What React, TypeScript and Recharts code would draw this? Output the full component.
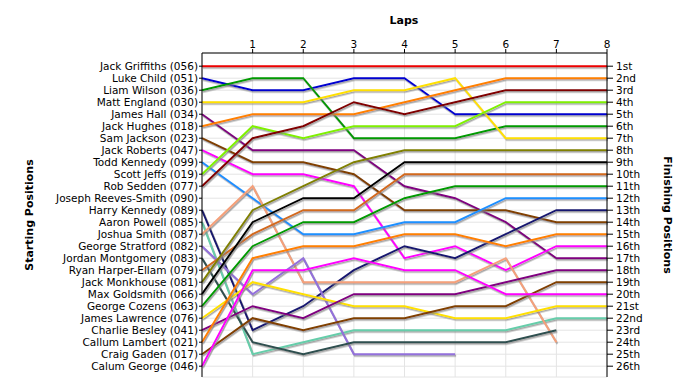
import React from 'react';
import { LineChart, Line, XAxis, YAxis, CartesianGrid } from 'recharts';

const laps = [0, 1, 2, 3, 4, 5, 6, 7, 8];
const lapTicks = [1, 2, 3, 4, 5, 6, 7, 8];
const rows = [1, 2, 3, 4, 5, 6, 7, 8, 9, 10, 11, 12, 13, 14, 15, 16, 17, 18, 19, 20, 21, 22, 23, 24, 25, 26];

const startingPositions = [
  'Jack Griffiths (056)', 'Luke Child (051)', 'Liam Wilson (036)', 'Matt England (030)',
  'James Hall (034)', 'Jack Hughes (018)', 'Sam Jackson (023)', 'Jack Roberts (047)',
  'Todd Kennedy (099)', 'Scott Jeffs (019)', 'Rob Sedden (077)', 'Joseph Reeves-Smith (090)',
  'Harry Kennedy (089)', 'Aaron Powell (085)', 'Joshua Smith (087)', 'George Stratford (082)',
  'Jordan Montgomery (083)', 'Ryan Harper-Ellam (079)', 'Jack Monkhouse (081)', 'Max Goldsmith (066)',
  'George Cozens (063)', 'James Lawrence (076)', 'Charlie Besley (041)', 'Callum Lambert (021)',
  'Craig Gaden (017)', 'Calum George (046)',
];

const finishingPositions = [
  '1st', '2nd', '3rd', '4th', '5th', '6th', '7th', '8th', '9th', '10th', '11th', '12th', '13th',
  '14th', '15th', '16th', '17th', '18th', '19th', '20th', '21st', '22nd', '23rd', '24th', '25th', '26th',
];

// position on each lap, 0..8 (null = retired)
const jackGriffiths = [1, 1, 1, 1, 1, 1, 1, 1, 1];
const lukeChild = [2, 3, 3, 2, 2, 5, 5, 5, 5];
const liamWilson = [3, 2, 2, 7, 7, 7, 6, 6, 6];
const mattEngland = [4, 4, 4, 3, 3, 2, 7, 7, 7];
const jamesHall = [5, 8, 8, 8, 11, 12, 14, 17, 17];
const jackHughes = [6, 5, 5, 5, 4, 3, 2, 2, 2];
const samJackson = [7, 9, 9, 10, 13, 13, 13, 14, 14];
const jackRoberts = [8, 10, 10, 11, 17, 16, 18, 16, 16];
const toddKennedy = [9, 12, 15, 15, 14, 14, 12, 12, 12];
const scottJeffs = [10, 6, 7, 6, 6, 6, 4, 4, 4];
const robSedden = [11, 7, 6, 4, 5, 4, 3, 3, 3];
const harryKennedy = [13, 23, 21, 18, 16, 17, 15, 13, 13];
const aaronPowell = [14, 25, 24, 23, 23, 23, 23, 22, 22];
const joshuaSmith = [15, 11, 19, 19, 19, 19, 17, 24, null];
const georgeStratford = [16, 20, 17, 25, 25, 25, null, null, null];
const jordanMontgomery = [17, 24, 25, 24, 24, 24, 24, 23, null];
const ryanHarperEllam = [18, 15, 13, 13, 10, 10, 10, 10, 10];
const jackMonkhouse = [19, 13, 11, 9, 8, 8, 8, 8, 8];
const maxGoldsmith = [20, 14, 12, 12, 9, 9, 9, 9, 9];
const georgeCozens = [21, 16, 14, 14, 12, 11, 11, 11, 11];
const jamesLawrence = [22, 19, 20, 21, 21, 22, 22, 21, 21];
const charlieBesley = [23, 21, 22, 20, 20, 20, 19, 18, 18];
const callumLambert = [24, 17, 16, 16, 15, 15, 16, 15, 15];
const craigGaden = [25, 22, 23, 22, 22, 21, 21, 19, 19];
const calumGeorge = [26, 18, 18, 17, 18, 18, 20, 20, 20];

const drivers = [
  { name: 'Jack Griffiths', color: '#ee0000', pos: jackGriffiths },
  { name: 'Luke Child', color: '#0000d0', pos: lukeChild },
  { name: 'Liam Wilson', color: '#009a00', pos: liamWilson },
  { name: 'Matt England', color: '#ffe000', pos: mattEngland },
  { name: 'James Hall', color: '#800080', pos: jamesHall },
  { name: 'Jack Hughes', color: '#ff8000', pos: jackHughes },
  { name: 'Sam Jackson', color: '#804000', pos: samJackson },
  { name: 'Jack Roberts', color: '#ff00ff', pos: jackRoberts },
  { name: 'Todd Kennedy', color: '#1e90ff', pos: toddKennedy },
  { name: 'Scott Jeffs', color: '#80f000', pos: scottJeffs },
  { name: 'Rob Sedden', color: '#800000', pos: robSedden },
  { name: 'Harry Kennedy', color: '#191970', pos: harryKennedy },
  { name: 'Aaron Powell', color: '#66cdaa', pos: aaronPowell },
  { name: 'Joshua Smith', color: '#f5a07a', pos: joshuaSmith },
  { name: 'George Stratford', color: '#9370db', pos: georgeStratford },
  { name: 'Jordan Montgomery', color: '#2f4f4f', pos: jordanMontgomery },
  { name: 'Ryan Harper-Ellam', color: '#d2691e', pos: ryanHarperEllam },
  { name: 'Jack Monkhouse', color: '#808000', pos: jackMonkhouse },
  { name: 'Max Goldsmith', color: '#000000', pos: maxGoldsmith },
  { name: 'George Cozens', color: '#009a00', pos: georgeCozens },
  { name: 'James Lawrence', color: '#ffe000', pos: jamesLawrence },
  { name: 'Charlie Besley', color: '#800080', pos: charlieBesley },
  { name: 'Callum Lambert', color: '#ff8000', pos: callumLambert },
  { name: 'Craig Gaden', color: '#804000', pos: craigGaden },
  { name: 'Calum George', color: '#ff00ff', pos: calumGeorge },
];

const data = laps.map((lap, i) => {
  const row: Record<string, number | null> = { lap };
  drivers.forEach((d) => {
    row[d.name] = d.pos[i];
  });
  return row;
});

const font = 'DejaVu Sans';
const tickStyle = { fontSize: 10.5, fill: '#000', fontFamily: font };
const posDomain = [-0.1, 26.9];

export default function App() {
  return (
    <div style={{ position: 'relative', width: 700, height: 390, background: '#fff' }}>
      <style>{'body{margin:0}.recharts-line-curve{filter:url(#shadow)}'}</style>
      <svg width={0} height={0} style={{ position: 'absolute' }}>
        <defs>
          <filter id="shadow" filterUnits="userSpaceOnUse" x={0} y={0} width={700} height={390}>
            <feDropShadow dx={1} dy={1.5} stdDeviation={0.4} floodColor="#808080" floodOpacity={0.7} />
          </filter>
        </defs>
      </svg>
      <LineChart width={700} height={390} data={data} margin={{ top: 0, right: 0, bottom: 13, left: 0 }}>
        <CartesianGrid yAxisId="left" stroke="#e4e4e4" strokeWidth={1} />
        <XAxis
          dataKey="lap"
          type="number"
          orientation="top"
          domain={[0, 8]}
          ticks={lapTicks}
          interval={0}
          height={53}
          tick={tickStyle}
          tickSize={4}
          tickMargin={1}
          stroke="#000"
        />
        <YAxis
          yAxisId="left"
          type="number"
          domain={posDomain}
          reversed
          ticks={rows}
          interval={0}
          width={202}
          tick={tickStyle}
          tickSize={3}
          tickMargin={1}
          stroke="#000"
          tickFormatter={(v: number) => startingPositions[v - 1]}
        />
        <YAxis
          yAxisId="right"
          orientation="right"
          type="number"
          domain={posDomain}
          reversed
          ticks={rows}
          interval={0}
          width={93}
          tick={tickStyle}
          tickSize={6}
          tickMargin={3}
          stroke="#000"
          tickFormatter={(v: number) => finishingPositions[v - 1]}
        />
        {drivers.map((d, i) => (
          <Line
            key={d.name}
            yAxisId={i === 0 ? 'right' : 'left'}
            dataKey={d.name}
            stroke={d.color}
            strokeWidth={2}
            dot={false}
            type="linear"
            isAnimationActive={false}
          />
        ))}
        <text x={404} y={24} textAnchor="middle" fontFamily={font} fontSize={11} fontWeight="bold" fill="#000">
          Laps
        </text>
        <text
          x={33}
          y={215}
          textAnchor="middle"
          fontFamily={font}
          fontSize={11}
          fontWeight="bold"
          fill="#000"
          transform="rotate(-90 33 215)"
        >
          Starting Positions
        </text>
        <text
          x={664}
          y={215}
          textAnchor="middle"
          fontFamily={font}
          fontSize={11}
          fontWeight="bold"
          fill="#000"
          transform="rotate(90 664 215)"
        >
          Finishing Positions
        </text>
      </LineChart>
    </div>
  );
}
